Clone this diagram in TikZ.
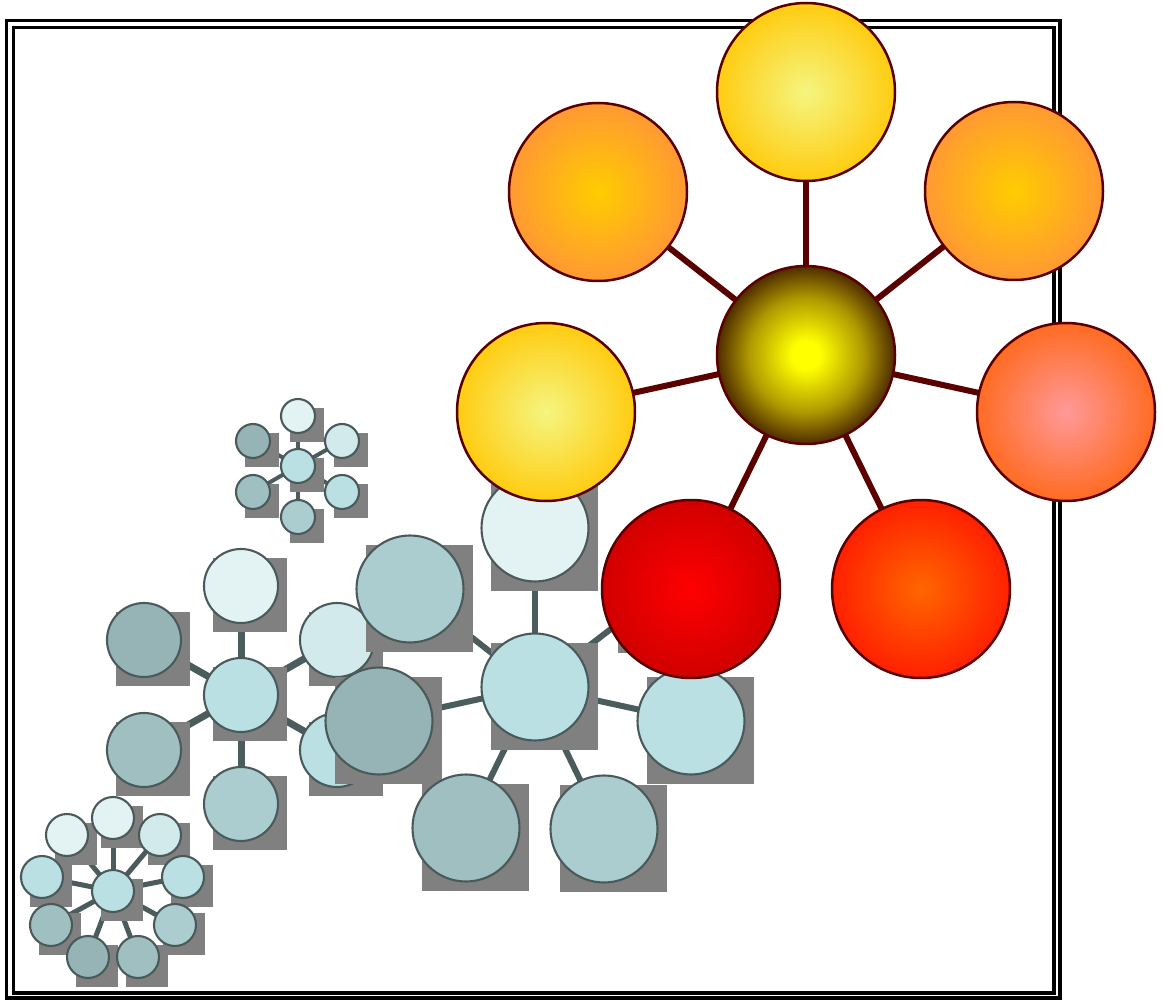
\documentclass[tikz,border=0pt]{standalone}
\pgfdeclarelayer{bg}
\pgfdeclarelayer{aE}\pgfdeclarelayer{aS}\pgfdeclarelayer{aC}
\pgfdeclarelayer{bE}\pgfdeclarelayer{bS}\pgfdeclarelayer{bC}
\pgfdeclarelayer{cE}\pgfdeclarelayer{cS}\pgfdeclarelayer{cC}
\pgfdeclarelayer{dE}\pgfdeclarelayer{dS}\pgfdeclarelayer{dC}
\pgfdeclarelayer{oE}\pgfdeclarelayer{oC}
\pgfsetlayers{bg,aE,aS,aC,bE,bS,bC,cE,cS,cC,dE,dS,dC,oE,oC,main}
\definecolor{tline}{HTML}{4A5A5A}
\definecolor{tedgec}{HTML}{4A5C5C}
\definecolor{shadowgray}{HTML}{808080}
\definecolor{mroon}{HTML}{5A0000}
\definecolor{cbrown}{HTML}{4E2C00}
\definecolor{cmid}{HTML}{B09A00}
\definecolor{cyellow}{HTML}{FFFF00}
\definecolor{tealA}{HTML}{E3F3F3}
\definecolor{tealB}{HTML}{D2EAEC}
\definecolor{tealC}{HTML}{BAE0E3}
\definecolor{tealD}{HTML}{ABCDCF}
\definecolor{tealE}{HTML}{A0BFC1}
\definecolor{tealF}{HTML}{96B3B5}
\pgfdeclareradialshading{coreball}{\pgfpoint{0bp}{0bp}}{color(0bp)=(cyellow); color(4bp)=(cyellow); color(16bp)=(cmid); color(25bp)=(cbrown); color(50bp)=(cbrown)}
\tikzset{
 tc/.style={circle, draw=tline, line width=2.1pt, inner sep=0pt, outer sep=0pt},
 shsq/.style={rectangle, fill=shadowgray, inner sep=0pt, outer sep=0pt},
 tedge/.style={draw=tedgec, line width=#1},
 oball/.style={circle, draw=mroon, line width=2.5pt, inner sep=0pt, outer sep=0pt, minimum size=178pt},
 oedge/.style={draw=mroon, line width=6pt},
 frameline/.style={draw=black, line width=3.8pt}
}
% layer prefix, name, x, y, diameter, colour
\newcommand\tnode[6]{%
 \begin{pgfonlayer}{#1S}\node[shsq, minimum size=#5pt, xshift=9pt, yshift=-9pt] (#2s) at (#3,#4) {};\end{pgfonlayer}%
 \begin{pgfonlayer}{#1C}\node[tc, minimum size=#5pt, fill=#6] (#2) at (#3,#4) {};\end{pgfonlayer}%
}
\begin{document}
\begin{tikzpicture}[x=1pt,y=-1pt]
\useasboundingbox (0,0) rectangle (1163,1000);
\begin{pgfonlayer}{bg}
\draw[frameline] (6.5,20.5) rectangle (1060,998.3);
\draw[frameline] (13.5,27.5) rectangle (1054,992.8);
\end{pgfonlayer}

% bottom-left cluster
\tnode{a}{ac}{113}{891}{42}{tealC}
\tnode{a}{a1}{113}{818}{42}{tealA}
\tnode{a}{a2}{160}{835}{42}{tealB}
\tnode{a}{a3}{183}{877}{42}{tealC}
\tnode{a}{a4}{175}{925}{42}{tealD}
\tnode{a}{a5}{138}{957}{42}{tealE}
\tnode{a}{a6}{88}{957}{42}{tealF}
\tnode{a}{a7}{51}{925}{42}{tealE}
\tnode{a}{a8}{42}{877}{42}{tealC}
\tnode{a}{a9}{67}{835}{42}{tealA}
\begin{pgfonlayer}{aE}
\foreach \n in {a1,a2,a3,a4,a5,a6,a7,a8,a9} \draw[tedge=5pt] (ac) -- (\n);
\end{pgfonlayer}

% small top cluster
\tnode{b}{bc}{298}{466}{34}{tealC}
\tnode{b}{b1}{298}{416}{34}{tealA}
\tnode{b}{b2}{253}{441}{34}{tealF}
\tnode{b}{b3}{253}{492}{34}{tealE}
\tnode{b}{b4}{298}{517}{34}{tealD}
\tnode{b}{b5}{342}{441}{34}{tealB}
\tnode{b}{b6}{342}{492}{34}{tealC}
\begin{pgfonlayer}{bE}
\foreach \n in {b1,b2,b3,b4,b5,b6} \draw[tedge=4pt] (bc) -- (\n);
\end{pgfonlayer}

% middle cluster
\tnode{c}{cc}{241}{695}{74}{tealC}
\tnode{c}{c1}{241}{586}{74}{tealA}
\tnode{c}{c2}{144}{640}{74}{tealF}
\tnode{c}{c3}{144}{750}{74}{tealE}
\tnode{c}{c4}{241}{804}{74}{tealD}
\tnode{c}{c5}{337}{640}{74}{tealB}
\tnode{c}{c6}{337}{750}{74}{tealC}
\begin{pgfonlayer}{cE}
\foreach \n in {c1,c2,c3,c4,c5,c6} \draw[tedge=7pt] (cc) -- (\n);
\end{pgfonlayer}

% big teal cluster
\tnode{d}{dc}{535}{687}{107}{tealC}
\tnode{d}{d1}{535}{528}{107}{tealA}
\tnode{d}{d2}{410}{589}{107}{tealD}
\tnode{d}{d3}{379}{721}{107}{tealF}
\tnode{d}{d4}{466}{828}{107}{tealE}
\tnode{d}{d5}{604}{829}{107}{tealD}
\tnode{d}{d6}{691}{721}{107}{tealC}
\tnode{d}{d7}{662}{590}{107}{tealC}
\begin{pgfonlayer}{dE}
\foreach \n in {d1,d2,d3,d4,d5,d6,d7} \draw[tedge=6pt] (dc) -- (\n);
\end{pgfonlayer}

% orange cluster
\begin{pgfonlayer}{oC}
\node[oball, shade, shading=coreball] (oc) at (806,355) {};
\node[oball, inner color={rgb,255:red,245;green,245;blue,128}, outer color={rgb,255:red,255;green,204;blue,17}] (o1) at (806,92) {};
\node[oball, inner color={rgb,255:red,255;green,204;blue,0}, outer color={rgb,255:red,255;green,153;blue,51}] (o2) at (598,192) {};
\node[oball, inner color={rgb,255:red,255;green,204;blue,0}, outer color={rgb,255:red,255;green,153;blue,51}] (o3) at (1014,191) {};
\node[oball, inner color={rgb,255:red,245;green,245;blue,128}, outer color={rgb,255:red,255;green,204;blue,17}] (o4) at (546,412) {};
\node[oball, inner color={rgb,255:red,255;green,153;blue,153}, outer color={rgb,255:red,255;green,107;blue,34}] (o5) at (1066,412) {};
\node[oball, inner color={rgb,255:red,255;green,0;blue,0}, outer color={rgb,255:red,209;green,0;blue,0}] (o6) at (691,589) {};
\node[oball, inner color={rgb,255:red,255;green,102;blue,0}, outer color={rgb,255:red,255;green,32;blue,0}] (o7) at (921,589) {};
\end{pgfonlayer}
\begin{pgfonlayer}{oE}
\foreach \n in {o1,o2,o3,o4,o5,o6,o7} \draw[oedge] (oc) -- (\n);
\end{pgfonlayer}
\end{tikzpicture}
\end{document}
